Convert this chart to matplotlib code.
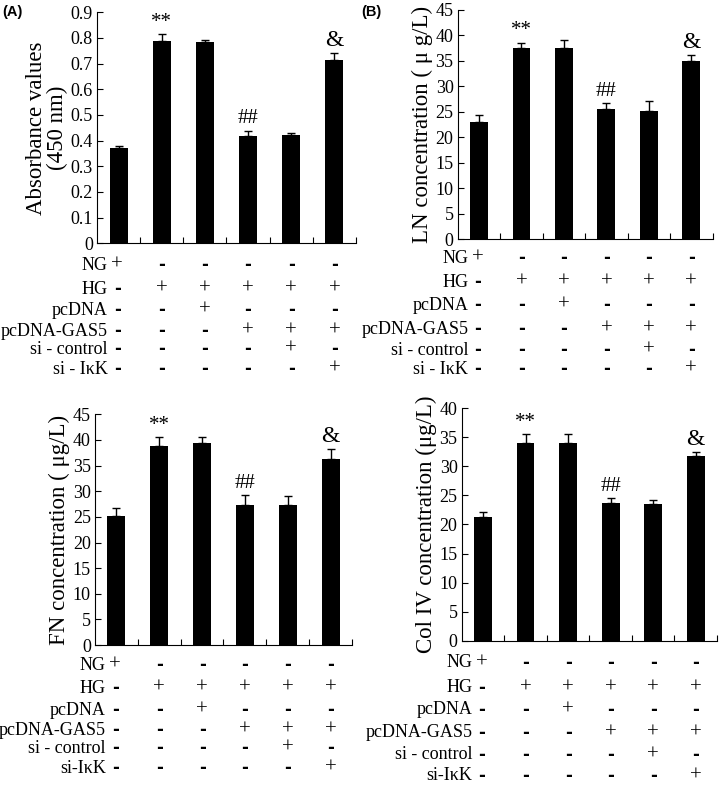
import numpy as np
import matplotlib.pyplot as plt
from matplotlib.transforms import blended_transform_factory, offset_copy

plt.rcParams['font.family'] = ['Liberation Serif', 'DejaVu Serif']

# Data
rows_top = ['NG', 'HG', 'pcDNA', 'pcDNA-GAS5', 'si - control', 'si - I\u03baK']
rows_bottom = ['NG', 'HG', 'pcDNA', 'pcDNA-GAS5', 'si - control', 'si-I\u03baK']
signs = [
    ['+', '-', '-', '-', '-', '-'],
    ['-', '+', '+', '+', '+', '+'],
    ['-', '-', '+', '-', '-', '-'],
    ['-', '-', '-', '+', '+', '+'],
    ['-', '-', '-', '-', '+', '-'],
    ['-', '-', '-', '-', '-', '+'],
]
marks = ['', '**', '', '##', '', '&']

abs_vals = [0.373, 0.790, 0.784, 0.417, 0.421, 0.714]
abs_err = [0.007, 0.024, 0.008, 0.022, 0.008, 0.026]

ln_vals = [22.96, 37.6, 37.6, 25.5, 25.2, 34.9]
ln_err = [1.5, 1.0, 1.6, 1.2, 2.0, 1.2]

fn_vals = [25.1, 38.9, 39.4, 27.3, 27.3, 36.3]
fn_err = [1.6, 1.6, 1.2, 1.9, 1.7, 1.9]

col_vals = [21.3, 34.1, 34.1, 23.75, 23.6, 31.8]
col_err = [0.8, 1.5, 1.4, 0.75, 0.7, 0.7]

fig = plt.figure(figsize=(7.2, 7.87), dpi=100)

panels = [
    dict(rect=[0.1347, 0.6909, 0.3597, 0.2935], vals=abs_vals, err=abs_err,
         ylim=0.9, step=0.1, rows=rows_top,
         ylabel='Absorbance values\n(450 nm)', rowy=[22, 46, 67, 88, 106, 126]),
    dict(rect=[0.6357, 0.6959, 0.3540, 0.2914], vals=ln_vals, err=ln_err,
         ylim=45, step=5, rows=rows_top,
         ylabel='LN concentration ( \u03bc g/L)', rowy=[19, 43, 66, 90, 111, 130]),
    dict(rect=[0.1319, 0.1804, 0.3570, 0.2931], vals=fn_vals, err=fn_err,
         ylim=45, step=5, rows=rows_bottom,
         ylabel='FN concentration ( \u03bcg/L)', rowy=[20, 43, 65, 85, 103, 123]),
    dict(rect=[0.6413, 0.1859, 0.3546, 0.2953], vals=col_vals, err=col_err,
         ylim=40, step=5, rows=rows_bottom,
         ylabel='Col IV concentration (\u03bcg/L)', rowy=[22, 47, 69, 92, 114, 135]),
]

x = np.arange(len(abs_vals))

for p in panels:
    ax = fig.add_axes(p['rect'])
    ax.bar(x, p['vals'], width=0.42, color='black', zorder=2)
    ax.errorbar(x, p['vals'], yerr=[np.zeros(len(x)), p['err']], fmt='none',
                ecolor='black', elinewidth=1, capsize=3, capthick=1, zorder=1)
    ax.set_xlim(-0.5, 5.5)
    ax.set_ylim(0, p['ylim'])
    ticks = np.arange(0, p['ylim'] + p['step'] / 2, p['step'])
    ax.set_yticks(ticks)
    ax.set_yticklabels(['{:g}'.format(round(t, 2)) for t in ticks])
    ax.set_xticks(np.arange(0.5, 6, 1))
    ax.set_xticklabels([])
    ax.tick_params(axis='both', direction='in', length=4, width=0.8, labelsize=13)
    ax.tick_params(axis='y', pad=3)
    for s in ['top', 'right']:
        ax.spines[s].set_visible(False)
    for s in ['left', 'bottom']:
        ax.spines[s].set_linewidth(0.8)
    ax.set_ylabel(p['ylabel'], fontsize=16.5, labelpad=2, linespacing=0.95)

    # significance marks
    for i, m in enumerate(marks):
        if m:
            fs = 17 if m == '&' else 15
            ax.text(x[i], p['vals'][i] + p['err'][i] + p['ylim'] * 0.01, m,
                    ha='center', va='bottom', fontsize=fs)

    # treatment table below axes
    trans = blended_transform_factory(ax.transData, ax.transAxes)
    for r, (name, off) in enumerate(zip(p['rows'], p['rowy'])):
        t = offset_copy(trans, fig=fig, x=0, y=-off, units='dots')
        ax.text(-0.25, 0, name, transform=t, ha='right', va='center',
                fontsize=13, clip_on=False)
        for i in range(len(x)):
            sg = signs[r][i]
            xi = x[i] + (-0.03 if i == 0 else 0)
            if sg == '+':
                ax.text(xi, 0, '+', transform=t, ha='center', va='center',
                        fontsize=15, clip_on=False)
            else:
                ax.text(xi, 0, '-', transform=t, ha='center', va='center',
                        fontsize=12, fontweight='bold', family='DejaVu Sans',
                        clip_on=False)

fig.text(0.003, 0.985, '(A)', fontsize=10.5, fontweight='bold',
         family='Liberation Sans', ha='left', va='center')
fig.text(0.502, 0.985, '(B)', fontsize=10.5, fontweight='bold',
         family='Liberation Sans', ha='left', va='center')

fig.savefig('out.png', dpi=100)
